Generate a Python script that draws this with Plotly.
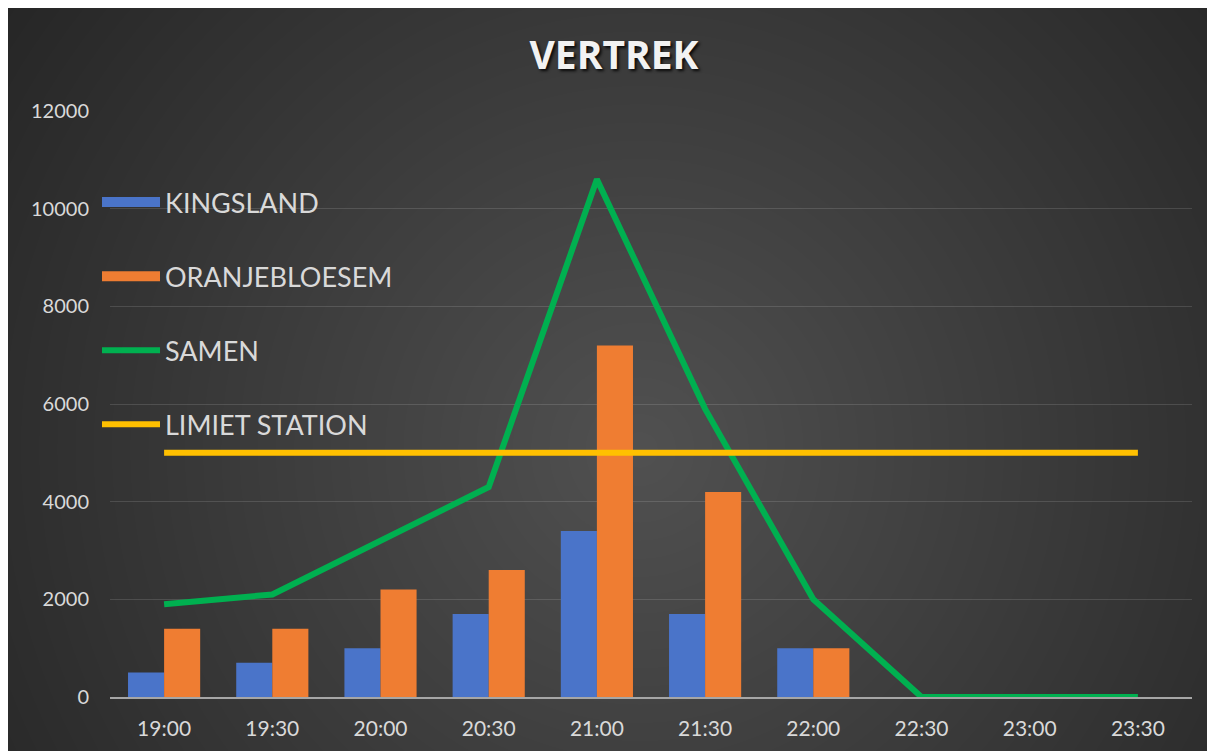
import plotly.graph_objects as go

# ---- data ----
times = ["19:00", "19:30", "20:00", "20:30", "21:00", "21:30", "22:00", "22:30", "23:00", "23:30"]
kingsland = [500, 700, 1000, 1700, 3400, 1700, 1000, 0, 0, 0]
oranjebloesem = [1400, 1400, 2200, 2600, 7200, 4200, 1000, 0, 0, 0]
samen = [1900, 2100, 3200, 4300, 10600, 5900, 2000, 0, 0, 0]
limiet = [5000, 5000, 5000, 5000, 5000, 5000, 5000, 5000, 5000, 5000]
y_ticks = [0, 2000, 4000, 6000, 8000, 10000, 12000]

# ---- geometry (pixels, figure coordinates; page adds an 8px body margin) ----
OFF = 8
FIG_W, FIG_H = 1207, 743
L, R, T, B = 102, 23, 103, 54
PW, PH = FIG_W - L - R, FIG_H - T - B


def fx(px):  # px: screen pixel
    return (px - OFF - L) / PW


def fy(py):
    return (FIG_H - B - (py - OFF)) / PH


# ---- background: radial gradient via concentric translucent circles ----
shapes = []
cx, cy = 640, 450
rmax = 820
n = 45
for i in range(n):
    r = rmax * (1 - i / n)
    shapes.append(dict(
        type="circle", xref="paper", yref="paper", layer="below",
        x0=fx(cx - r), x1=fx(cx + r), y0=fy(cy + r), y1=fy(cy - r),
        fillcolor="rgba(255,255,255,0.0075)", line=dict(width=0),
    ))

fig = go.Figure()
fig.add_trace(go.Bar(x=times, y=kingsland, name="KINGSLAND",
                     marker=dict(color="#4a74c9", line=dict(width=0)),
                     showlegend=False))
fig.add_trace(go.Bar(x=times, y=oranjebloesem, name="ORANJEBLOESEM",
                     marker=dict(color="#ef7d32", line=dict(width=0)),
                     showlegend=False))
fig.add_trace(go.Scatter(x=times, y=samen, name="SAMEN", mode="lines",
                         line=dict(color="#00b050", width=6),
                         legendgroup="c", legendrank=3))
fig.add_trace(go.Scatter(x=times, y=limiet, name="LIMIET STATION", mode="lines",
                         line=dict(color="#ffc000", width=6),
                         legendgroup="d", legendrank=4))
# legend entries for the bar series (wide rectangle symbols as in the reference)
fig.add_trace(go.Scatter(x=[None], y=[None], name="KINGSLAND", mode="lines",
                         line=dict(color="#4a74c9", width=16),
                         legendgroup="a", legendrank=1, hoverinfo="skip"))
fig.add_trace(go.Scatter(x=[None], y=[None], name="ORANJEBLOESEM", mode="lines",
                         line=dict(color="#ef7d32", width=16),
                         legendgroup="b", legendrank=2, hoverinfo="skip"))

fig.update_layout(
    width=FIG_W, height=FIG_H,
    margin=dict(l=L, r=R, t=T, b=B, pad=0, autoexpand=False),
    paper_bgcolor="#232323",
    plot_bgcolor="rgba(0,0,0,0)",
    shapes=shapes,
    barmode="group", bargap=0.333, bargroupgap=0,
    title=dict(text="<b>VERTREK</b>", xref="container", x=(614 - OFF) / FIG_W,
               xanchor="center", yref="container", y=1 - (55 - OFF) / FIG_H,
               yanchor="middle",
               font=dict(family="Open Sans", size=39, color="#f2f2f2",
                         shadow="2px 2px 3px rgba(0,0,0,0.85)")),
    font=dict(family="Lato", color="#d9d9d9"),
    legend=dict(x=fx(97), xanchor="left", y=fy(178), yanchor="top",
                bgcolor="rgba(0,0,0,0)", font=dict(size=27, color="#d9d9d9"),
                traceorder="grouped", tracegroupgap=36, itemwidth=58),
    showlegend=True,
)
fig.update_xaxes(type="category", showgrid=False, showline=True,
                 linecolor="#a6a6a6", linewidth=2, ticks="",
                 tickfont=dict(size=21, color="#d9d9d9"),
                 ticklabelstandoff=12, zeroline=False, automargin=False)
fig.update_yaxes(range=[0, 12000], tickvals=y_ticks, tickformat="d",
                 showgrid=True, gridcolor="rgba(255,255,255,0.13)", gridwidth=1,
                 zeroline=False, showline=False, ticks="",
                 tickfont=dict(size=20, color="#d9d9d9"),
                 ticklabelstandoff=20, automargin=False)

fig.write_html("out.html")
